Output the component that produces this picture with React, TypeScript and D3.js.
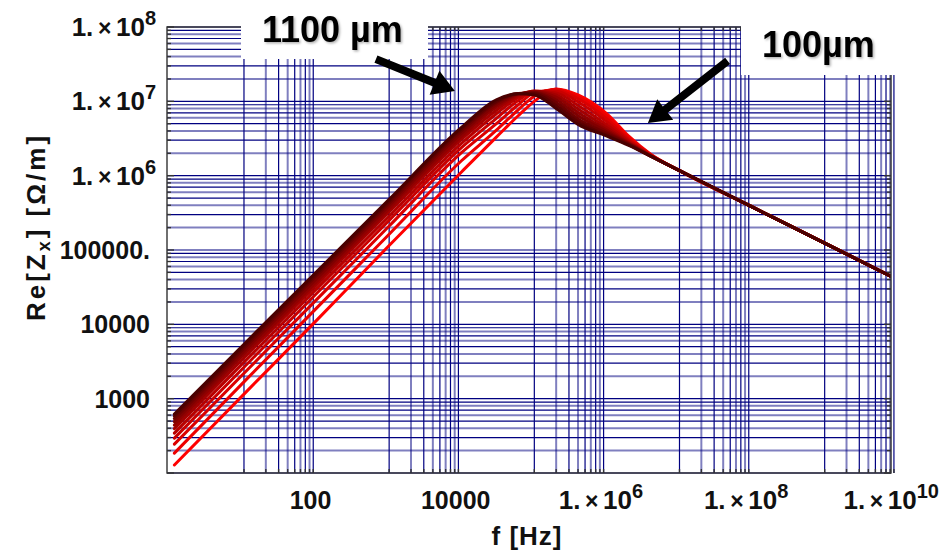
import * as d3 from "d3";

const freqs = [1.1, 10, 100, 1e3, 1e4, 3e4, 6e4, 1e5, 2e5, 4e5, 1e6, 2e6, 4e6, 1e7, 1e8, 1e9, 1e10];

// high frequency part, common to every width (1e7 .. 1e10 Hz)
const tail = [1.17e6, 3.8e5, 1.24e5, 4.0e4];

// Re[Zx] in Ohm/m from 1.1 Hz up to 4 MHz, one array per strip width
const re1100 = [620, 5.4e3, 5.1e4, 4.8e5, 4.5e6, 1.05e7, 1.26e7, 1.22e7, 8.0e6, 4.9e6, 3.4e6, 2.55e6, 1.83e6];
const re1000 = [582, 5.1e3, 4.8e4, 4.55e5, 4.3e6, 1.0e7, 1.27e7, 1.26e7, 8.8e6, 5.3e6, 3.5e6, 2.6e6, 1.83e6];
const re900 = [539, 4.75e3, 4.5e4, 4.25e5, 4.05e6, 9.6e6, 1.27e7, 1.3e7, 9.6e6, 5.8e6, 3.7e6, 2.65e6, 1.83e6];
const re800 = [491, 4.35e3, 4.1e4, 3.95e5, 3.75e6, 9.0e6, 1.26e7, 1.33e7, 1.05e7, 6.4e6, 3.9e6, 2.7e6, 1.84e6];
const re700 = [441, 3.95e3, 3.75e4, 3.6e5, 3.4e6, 8.4e6, 1.24e7, 1.35e7, 1.14e7, 7.1e6, 4.1e6, 2.75e6, 1.85e6];
const re600 = [395, 3.55e3, 3.4e4, 3.25e5, 3.1e6, 7.6e6, 1.2e7, 1.37e7, 1.22e7, 7.9e6, 4.4e6, 2.8e6, 1.86e6];
const re500 = [344, 3.1e3, 3.0e4, 2.85e5, 2.75e6, 6.8e6, 1.13e7, 1.38e7, 1.3e7, 8.8e6, 4.8e6, 2.9e6, 1.87e6];
const re400 = [295, 2.65e3, 2.6e4, 2.5e5, 2.4e6, 5.9e6, 1.03e7, 1.36e7, 1.37e7, 9.8e6, 5.3e6, 3.0e6, 1.88e6];
const re300 = [245, 2.2e3, 2.15e4, 2.1e5, 2.05e6, 5.0e6, 9.0e6, 1.3e7, 1.42e7, 1.08e7, 5.8e6, 3.1e6, 1.9e6];
const re200 = [185, 1.68e3, 1.65e4, 1.63e5, 1.6e6, 4.1e6, 7.7e6, 1.17e7, 1.45e7, 1.16e7, 6.3e6, 3.25e6, 1.92e6];
const re100 = [128, 1.15e3, 1.13e4, 1.15e5, 1.13e6, 3.3e6, 6.4e6, 1.0e7, 1.47e7, 1.22e7, 6.8e6, 3.4e6, 1.95e6];

const widthsUm = [1100, 1000, 900, 800, 700, 600, 500, 400, 300, 200, 100];
const seriesValues = [re1100, re1000, re900, re800, re700, re600, re500, re400, re300, re200, re100];

// grid: x only in odd decades, y in every decade
const gridDecadesX = [1, 3, 5, 7, 9];
const gridDecadesY = [2, 3, 4, 5, 6, 7];
const mults = [1, 2, 3, 4, 5, 6, 7, 8, 9];

const xLabels = [
  { v: 1e2, text: "100" },
  { v: 1e4, text: "10000" },
  { v: 1e6, exp: "6" },
  { v: 1e8, exp: "8" },
  { v: 1e10, exp: "10" },
];
const yLabels = [
  { v: 1e3, text: "1000" },
  { v: 1e4, text: "10000" },
  { v: 1e5, text: "100000." },
  { v: 1e6, exp: "6" },
  { v: 1e7, exp: "7" },
  { v: 1e8, exp: "8" },
];

const FONT = "'Liberation Sans', Arial, Helvetica, sans-serif";
const DARK = "#000080";
const LIGHT = "rgba(0,0,128,0.5)";

function arrowPoints(x1: number, y1: number, x2: number, y2: number) {
  const shaft = 4, headLen = 22, headHalf = 13;
  const dx = x2 - x1, dy = y2 - y1;
  const L = Math.hypot(dx, dy);
  const ux = dx / L, uy = dy / L;
  const px = -uy, py = ux;
  const bx = x2 - ux * headLen, by = y2 - uy * headLen;
  const pts = [
    [x1 + px * shaft, y1 + py * shaft],
    [bx + px * shaft, by + py * shaft],
    [bx + px * headHalf, by + py * headHalf],
    [x2, y2],
    [bx - px * headHalf, by - py * headHalf],
    [bx - px * shaft, by - py * shaft],
    [x1 - px * shaft, y1 - py * shaft],
  ];
  return pts.map((p) => p.join(",")).join(" ");
}

// "1. × 10^n" label used on both axes
const SciLabel = ({ x, y, anchor, exp }: { x: number; y: number; anchor: string; exp: string }) => (
  <text x={x} y={y} textAnchor={anchor} fontSize={26}>
    1.<tspan fontSize={23}>{"\u2009×\u2009"}</tspan>10
    <tspan fontSize={20} dy={-11}>
      {exp}
    </tspan>
  </text>
);

export default function App() {
  const width = 944;
  const height = 554;
  const left = 167, right = 891, top = 27, bottom = 473;

  const x = d3.scaleLog().domain([0.87, 8.2e9]).range([left, right]);
  const y = d3.scaleLog().domain([100, 1e8]).range([bottom, top]);
  const color = d3.scaleLinear<string>().domain([100, 1100]).range(["#ff0000", "#4a0000"]);

  const line = d3
    .line<[number, number]>()
    .x((d) => x(d[0]))
    .y((d) => y(d[1]))
    .curve(d3.curveMonotoneX);

  const xGrid = gridDecadesX.flatMap((n) => mults.map((k) => ({ v: k * 10 ** n, k })));
  const yGrid = gridDecadesY.flatMap((n) => mults.map((k) => ({ v: k * 10 ** n, k }))).concat([{ v: 1e8, k: 1 }]);

  // draw thin (100 µm) first so the thick ones end up on top of the shared tail
  const order = d3.range(widthsUm.length).reverse();

  return (
    <div>
      <style>{`body{margin:0}`}</style>
      <svg width={width} height={height} style={{ display: "block", background: "#fff" }}>
        <defs>
          <clipPath id="plot">
            <rect x={left} y={top} width={right - left} height={bottom - top} />
          </clipPath>
          <filter id="soft" x="-10%" y="-20%" width="130%" height="150%">
            <feDropShadow dx="1.5" dy="1.5" stdDeviation="1" floodColor="#000" floodOpacity="0.3" />
          </filter>
        </defs>

        {/* grid */}
        <g>
          {yGrid.map((g, i) => (
            <line
              key={"hy" + i}
              x1={left}
              x2={right}
              y1={y(g.v)}
              y2={y(g.v)}
              stroke={g.k % 2 === 1 ? DARK : LIGHT}
              strokeWidth={g.k % 2 === 1 ? 1.2 : 2}
            />
          ))}
          {xGrid.map((g, i) => (
            <line
              key={"vx" + i}
              x1={x(g.v)}
              x2={x(g.v)}
              y1={top}
              y2={bottom}
              stroke={g.k % 2 === 1 ? DARK : LIGHT}
              strokeWidth={g.k % 2 === 1 ? 1.2 : 2}
            />
          ))}
        </g>

        {/* curves */}
        <g clipPath="url(#plot)" fill="none" strokeWidth={3} strokeLinejoin="round" strokeLinecap="round">
          {order.map((i) => {
            const vals = seriesValues[i].concat(tail);
            const pts = freqs.map((f, j) => [f, vals[j]] as [number, number]);
            return <path key={widthsUm[i]} d={line(pts) || ""} stroke={color(widthsUm[i])} />;
          })}
        </g>

        {/* frame and ticks */}
        <g stroke="#333" strokeWidth={1.4}>
          <rect x={left} y={top} width={right - left} height={bottom - top} fill="none" />
          {yGrid.map((g, i) => {
            const len = g.k === 1 ? 7 : 4;
            return (
              <g key={"ty" + i}>
                <line x1={left} x2={left + len} y1={y(g.v)} y2={y(g.v)} />
                <line x1={right} x2={right - len} y1={y(g.v)} y2={y(g.v)} />
              </g>
            );
          })}
          {xGrid.map((g, i) => (
            <g key={"tx" + i}>
              <line x1={x(g.v)} x2={x(g.v)} y1={bottom} y2={bottom - 4} />
              <line x1={x(g.v)} x2={x(g.v)} y1={top} y2={top + 4} />
            </g>
          ))}
        </g>

        {/* tick labels */}
        <g fontFamily={FONT} fontWeight="bold" fontSize={25} fill="#111">
          {yLabels.map((l, i) =>
            l.exp ? (
              <SciLabel key={"yl" + i} x={156} y={y(l.v) + 9} anchor="end" exp={l.exp} />
            ) : (
              <text key={"yl" + i} x={150} y={y(l.v) + 9} textAnchor="end">
                {l.text}
              </text>
            )
          )}
          {xLabels.map((l, i) =>
            l.exp ? (
              <SciLabel key={"xl" + i} x={x(l.v) - 6} y={509} anchor="middle" exp={l.exp} />
            ) : (
              <text key={"xl" + i} x={x(l.v) - 6} y={509} textAnchor="middle">
                {l.text}
              </text>
            )
          )}
        </g>

        {/* axis titles */}
        <g fontFamily={FONT} fontWeight="bold" fontSize={26} fill="#111">
          <text x={527} y={545} textAnchor="middle" letterSpacing={1}>
            f [Hz]
          </text>
          <text transform="translate(45,227) rotate(-90)" textAnchor="middle" letterSpacing={3}>
            Re[Z
            <tspan fontSize={18} dy={5}>
              x
            </tspan>
            <tspan dy={-5}>] [Ω/m]</tspan>
          </text>
        </g>

        {/* annotations */}
        <rect x={241} y={0} width={187} height={59} fill="#fff" />
        <rect x={741} y={0} width={203} height={75} fill="#fff" />
        <g fontFamily={FONT} fontWeight="bold" fontSize={36} fill="#000" filter="url(#soft)">
          <text x={262} y={42}>
            1100 µm
          </text>
          <text x={762} y={57}>
            100µm
          </text>
        </g>
        <g fill="#000">
          <polygon points={arrowPoints(x(658), y(3.7e7), x(8.05e3), y(1.38e7))} />
          <polygon points={arrowPoints(x(4.6e7), y(3.5e7), x(3.67e6), y(5.1e6))} />
        </g>
      </svg>
    </div>
  );
}
